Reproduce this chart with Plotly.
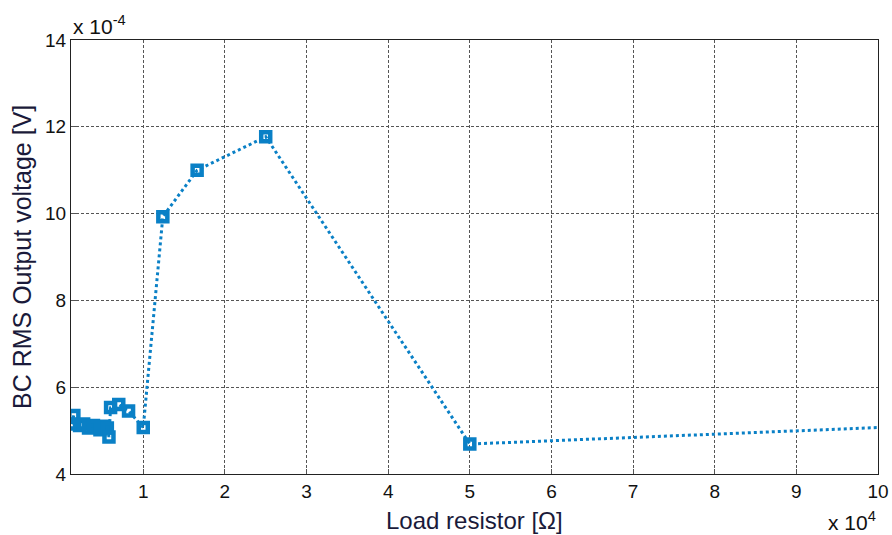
import plotly.graph_objects as go

# Load resistor values [Ohm]
load_resistor = [1200, 1500, 2200, 2700, 3300, 3900, 4700, 5100, 5600, 5800,
                 6000, 7000, 8200, 10000, 12400, 16600, 25000, 50000, 100000]
# BC RMS output voltage [V]
output_voltage = [5.15e-4, 5.35e-4, 5.12e-4, 5.15e-4, 5.06e-4, 5.12e-4, 5.02e-4,
                  5.10e-4, 5.06e-4, 4.85e-4, 5.53e-4, 5.60e-4, 5.45e-4, 5.07e-4,
                  9.93e-4, 11.0e-4, 11.77e-4, 4.69e-4, 5.07e-4]

x_tick_vals = [10000 * k for k in range(1, 11)]
x_tick_text = [str(k) for k in range(1, 11)]
y_tick_vals = [4e-4, 6e-4, 8e-4, 10e-4, 12e-4, 14e-4]
y_tick_text = ["4", "6", "8", "10", "12", "14"]

blue = "#0a80c6"
font = "Liberation Sans, Arial, sans-serif"

fig = go.Figure()
# dotted line through all measurements
fig.add_trace(go.Scatter(
    x=load_resistor, y=output_voltage, mode="lines",
    line=dict(color=blue, width=3, dash="dot"),
    hoverinfo="skip", showlegend=False, cliponaxis=True,
))
# markers (last point lies on the axis edge, no marker shown there)
fig.add_trace(go.Scatter(
    x=load_resistor[:-1], y=output_voltage[:-1], mode="markers",
    marker=dict(symbol="square-open", size=9, color=blue, line=dict(color=blue, width=4.5)),
    showlegend=False, cliponaxis=True,
))

axis_common = dict(
    showline=True, linecolor="#222", linewidth=1, mirror=True,
    ticks="inside", ticklen=5, tickcolor="#555",
    showgrid=True, gridcolor="#555", gridwidth=1, griddash="3px,2px",
    zeroline=False, automargin=False,
    tickfont=dict(family=font, size=19, color="#111"),
)

fig.update_xaxes(range=[1150, 100000], tickvals=x_tick_vals, ticktext=x_tick_text, **axis_common)
fig.update_yaxes(range=[4e-4, 14e-4], tickvals=y_tick_vals, ticktext=y_tick_text, **axis_common)

fig.update_layout(
    width=892, height=535, autosize=False,
    margin=dict(l=71, r=14, t=40, b=61, autoexpand=False),
    paper_bgcolor="white", plot_bgcolor="white",
    font=dict(family=font, color="#111"),
    annotations=[
        dict(text="Load resistor [Ω]", x=0.5, y=-0.108, xref="paper", yref="paper",
             xanchor="center", yanchor="middle", showarrow=False,
             font=dict(family=font, size=24, color="#1a1a3a")),
        dict(text="BC RMS Output voltage [V]", x=-0.0607, y=0.5, xref="paper", yref="paper",
             xanchor="center", yanchor="middle", textangle=-90, showarrow=False,
             font=dict(family=font, size=25, color="#1a1a3a")),
        dict(text="x 10<sup>-4</sup>", x=0.0, y=1.0, xref="paper", yref="paper",
             xanchor="left", yanchor="bottom", yshift=0, showarrow=False,
             font=dict(family=font, size=21, color="#111")),
        dict(text="x 10<sup>4</sup>", x=1.0, y=-0.108, xref="paper", yref="paper",
             xanchor="right", yanchor="middle", showarrow=False,
             font=dict(family=font, size=21, color="#111")),
    ],
)

fig.write_html("out.html")
